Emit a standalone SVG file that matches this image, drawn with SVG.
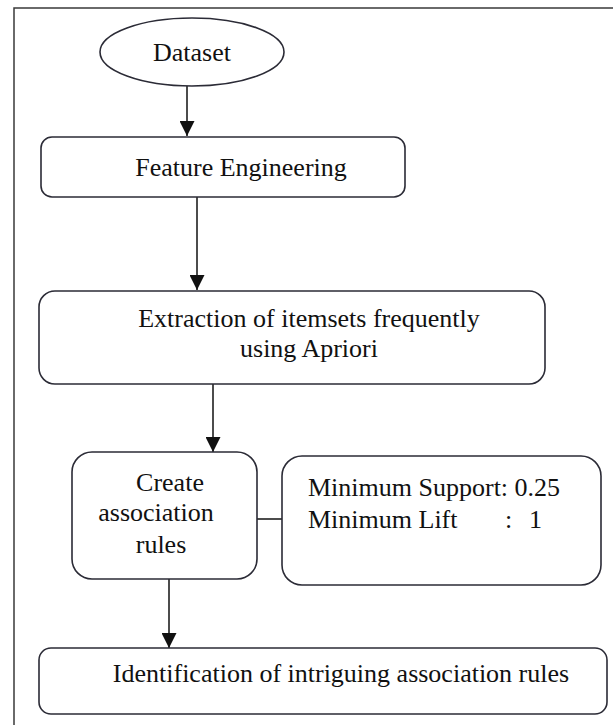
<svg xmlns="http://www.w3.org/2000/svg" width="613" height="725" viewBox="0 0 613 725">
  <style>
    .frame { fill: none; stroke: #3a3a3a; stroke-width: 1.5; }
    .node { fill: #ffffff; stroke: #2b2b36; stroke-width: 1.6; }
    .edge { fill: none; stroke: #111111; stroke-width: 1.5; }
    text { font-family: "Liberation Serif", "Times New Roman", serif; font-size: 26px; fill: #111111; }
  </style>
  <defs>
    <marker id="arrow" viewBox="0 0 15 15" refX="15" refY="7.5" markerWidth="15" markerHeight="15" markerUnits="userSpaceOnUse" orient="auto">
      <path d="M0,0 L15,7.5 L0,15 Z" fill="#111111"/>
    </marker>
  </defs>

  <rect x="0" y="0" width="613" height="725" fill="#ffffff"/>
  <!-- outer frame, running past the right and bottom edges -->
  <rect class="frame" x="14" y="8" width="640" height="760"/>

  <g id="connectors">
    <line class="edge" x1="187" y1="86" x2="187" y2="136" marker-end="url(#arrow)"/>
    <line class="edge" x1="197" y1="197" x2="197" y2="290" marker-end="url(#arrow)"/>
    <line class="edge" x1="213" y1="384" x2="213" y2="452" marker-end="url(#arrow)"/>
    <line class="edge" x1="257" y1="519" x2="282" y2="519"/>
    <line class="edge" x1="169" y1="579" x2="169" y2="648" marker-end="url(#arrow)"/>
  </g>

  <g id="dataset">
    <ellipse class="node" cx="192" cy="52" rx="92" ry="34"/>
    <text x="192" y="61" text-anchor="middle">Dataset</text>
  </g>

  <g id="feature-engineering">
    <rect class="node" x="41" y="137" width="364" height="60" rx="11"/>
    <text x="241" y="176" text-anchor="middle">Feature Engineering</text>
  </g>

  <g id="extraction">
    <rect class="node" x="39" y="291" width="506" height="93" rx="16"/>
    <text x="309" y="327" text-anchor="middle">Extraction of itemsets frequently</text>
    <text x="309" y="357" text-anchor="middle">using Apriori</text>
  </g>

  <g id="create-rules">
    <rect class="node" x="72" y="452" width="185" height="127" rx="20"/>
    <text x="170" y="491" text-anchor="middle">Create</text>
    <text x="156" y="521" text-anchor="middle">association</text>
    <text x="161" y="553" text-anchor="middle">rules</text>
  </g>

  <g id="thresholds">
    <rect class="node" x="282" y="456" width="319" height="129" rx="20"/>
    <text x="308" y="496">Minimum Support: 0.25</text>
    <text x="308" y="528">Minimum Lift</text>
    <text x="505" y="528">:</text>
    <text x="529" y="528">1</text>
  </g>

  <g id="identification">
    <rect class="node" x="39" y="648" width="568" height="66" rx="12"/>
    <text x="341" y="682" text-anchor="middle">Identification of intriguing association rules</text>
  </g>
</svg>
